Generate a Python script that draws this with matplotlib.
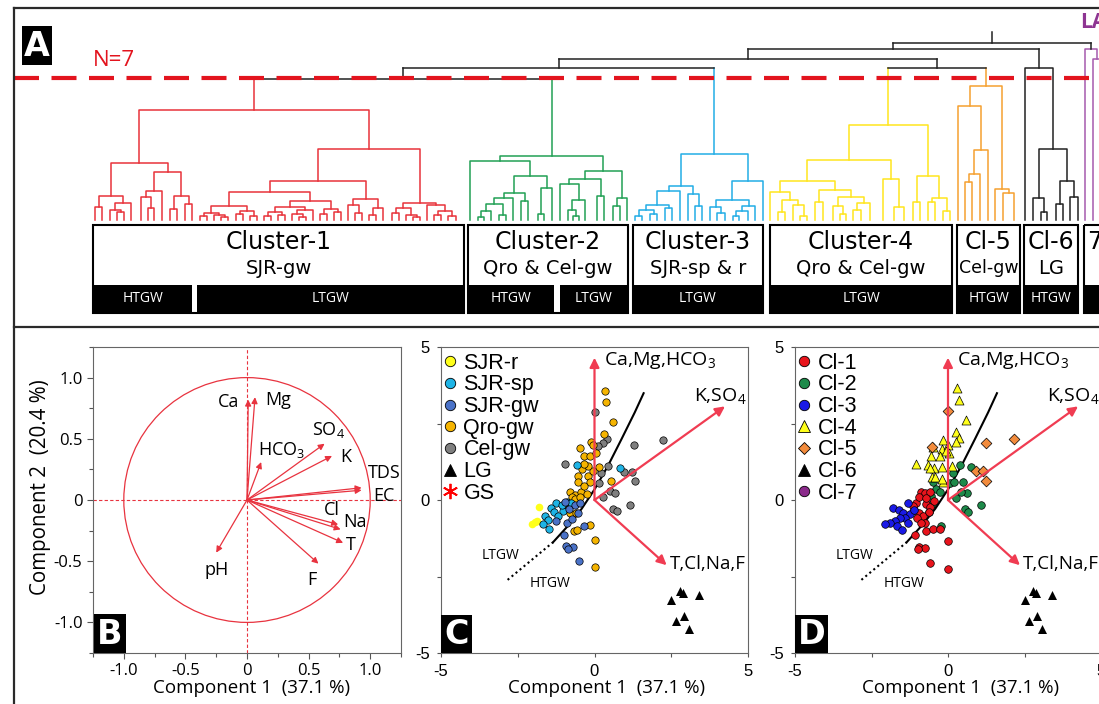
import matplotlib
matplotlib.use("Agg")
import matplotlib.pyplot as plt
from matplotlib.patches import Rectangle, Circle
from matplotlib.lines import Line2D
import numpy as np

W, H = 1099, 704
plt.rcParams["font.family"] = ["Open Sans", "DejaVu Sans"]
plt.rcParams["axes.unicode_minus"] = False
plt.rcParams["mathtext.default"] = "regular"

# ---------------- panel A: dendrogram ----------------
# node = (height, left, right); a leaf is its position along the leaf row
red_tree = (110,
    (57,
        (24, (13, 95, 102), (17, (10, 110, (8, 117, 124)), 131)),
        (48, (29, (23, 141, (12, 148, 154)), 162), (24, (11, 170, 177), (16, 185, 192)))),
    (71,
        (39,
            (28,
                (14, (7, (4, 200, 207), (5, 214, (3, 221, 228))), (9, (6, 236, 243), (4, 250, 257))),
                (19, (13, (8, (4, 264, 271), (5, 278, 285)), (10, (6, 292, (3, 299, 306)), 313)),
                     (11, (6, 320, 327), (8, 334, 341)))),
            (21, (15, 348, (7, 355, 362)), (12, (5, 369, 376), 383))),
        (17, (12, (7, 392, 399), (5, 406, (3, 413, 420))), (15, 427, (9, (5, 434, 441), (4, 448, 456))))))
green_tree = (64,
    (59, 470, (44, (27, (22, (16, (9, (3, 478, 484), 491), (5, 499, 506)), 513), (19, 521, 528)),
                   (32, (6, 538, 544), 552))),
    (49, (41, (36, 560, (20, (10, 568, (4, 573, 579)), 585)), (24, 597, 604)),
         (22, (14, 613, 620), 627)))
blue_tree = (66,
    (34, (29, (15, (10, (4, 635, 642), (6, 650, 657)), (12, 665, 672)), 680),
         (26, 688, (14, 695, 702))),
    (39, (20, (13, 710, (7, 717, 725)), (14, (9, (4, 733, 739), 748), 755)), 763))
yellow_tree = (95,
    (60, (39, (28, 770, (20, (8, 778, 785), (15, 793, (4, 800, 807)))),
              (30, (18, 815, 823), (23, (14, 833, (6, 840, 846)), (17, (10, 853, 861), 870)))),
         (41, 883, (13, 894, 904))),
    (44, (18, 913, 920), (22, (18, 928, 935), (9, 943, 950))))
orange_tree = (134,
    (114, 958, (70, (46, (38, 965, 972), 980), 988)),
    (31, 995, (27, 1003, 1014)))
black_tree = (152, 1025,
    (71, (22, 1033, (8, 1041, 1047)), (39, (16, 1056, 1063), (23, 1070, 1078))))
purple_tree = (171, 1085, (161, 1093, 1101))

trees = {"red": red_tree, "green": green_tree, "blue": blue_tree, "yellow": yellow_tree,
         "orange": orange_tree, "black": black_tree, "purple": purple_tree}
tree_colors = {"red": "#e8333b", "green": "#22a055", "blue": "#23ade6", "yellow": "#ffe51e",
               "orange": "#f5a030", "black": "#222222", "purple": "#a55aad"}

# joins of the seven clusters above the cut
upper_tree = (177, (171, (161, (152, (141, "red", "green"), "blue"), (152, "yellow", "orange")), "black"), "purple")
root_top = 188
cut_height = 142

cluster_titles = ["Cluster-1", "Cluster-2", "Cluster-3", "Cluster-4", "Cl-5", "Cl-6", "7"]
cluster_groups = ["SJR-gw", "Qro & Cel-gw", "SJR-sp & r", "Qro & Cel-gw", "Cel-gw", "LG", ""]
cluster_bands = [[("HTGW", 93, 192), ("LTGW", 197, 464)],
                 [("HTGW", 468, 554), ("LTGW", 560, 628)],
                 [("LTGW", 633, 763)],
                 [("LTGW", 770, 952)],
                 [("HTGW", 957, 1020)],
                 [("HTGW", 1024, 1078)],
                 [("", 1084, 1115)]]

# ---------------- panel B: loadings ----------------
load_names = ["Ca", "Mg", "HCO$_3$", "SO$_4$", "K", "TDS", "EC", "Cl", "Na", "T", "F", "pH"]
load_x = [0.01, 0.065, 0.115, 0.63, 0.69, 0.93, 0.93, 0.74, 0.76, 0.78, 0.58, -0.25]
load_y = [0.82, 0.84, 0.31, 0.46, 0.36, 0.10, 0.08, -0.20, -0.24, -0.35, -0.52, -0.43]

# ---------------- panels C and D: scores ----------------
sjr_r_x = [-1.81, -1.86, -2.02, -1.94]
sjr_r_y = [-0.24, -0.70, -0.78, -0.73]
sjr_sp_x = [-0.56, 0.83, -1.26, -1.43, -1.60, -1.53, -1.67, -1.48, -1.31, -1.02, -0.91, -0.77, -1.07, -1.18]
sjr_sp_y = [1.14, 1.03, -0.10, -0.26, -0.51, -0.64, -0.78, -0.95, -0.38, -0.37, -0.05, -0.10, -0.15, -0.53]
sjr_gw_x = [-0.97, -0.83, -0.64, -0.48, -1.24, -1.00, -0.94, -0.69, -0.86, -0.51, -0.34, -0.91, -0.73, -0.55]
sjr_gw_y = [-0.08, -0.29, -0.15, -0.10, -0.70, -1.14, -1.49, -1.55, -1.60, -2.00, -0.84, -0.76, -0.62, -0.42]
qro_x = [0.34, 0.39, 0.61, 0.31, -0.13, -0.04, -0.46, -0.34, -0.15, 0.04, 0.16, -0.42, -0.53, -0.21,
         -0.04, -0.53, -0.15, 0.53, -0.80, -0.64, -0.45, -0.26, -0.73, -0.34, -0.86, -0.80, -0.59,
         -0.67, -0.56, -0.15, 0.03, 0.03, -0.21, -0.34, -0.64, -0.48]
qro_y = [3.57, 3.21, 2.56, 2.16, 1.91, 1.80, 1.70, 1.43, 1.43, 1.54, 1.09, 1.01, 0.80, 0.80,
         0.96, 0.58, 0.58, 0.61, 0.27, 0.17, 0.27, 0.20, 0.11, 0.47, -0.29, -0.42, -0.44,
         -1.00, -0.97, -0.82, -1.30, -2.20, 1.12, 1.18, 0.03, 0.09]
cel_x = [0.01, 0.41, 0.29, 0.12, -0.97, 0.45, 0.21, 0.14, 0.52, 0.67, 0.28, 0.61, 0.73, 1.15, 0.97, 1.21, 1.31, 1.29, 2.24]
cel_y = [2.86, 1.99, 1.86, 1.78, 1.17, 1.12, 0.88, 0.56, 0.28, 0.23, 0.09, -0.29, -0.36, -0.16, 0.90, 0.93, 0.62, 1.80, 1.96]
lg_x = [2.79, 2.89, 3.39, 2.50, 2.90, 2.65, 3.08]
lg_y = [-2.97, -3.03, -3.12, -3.28, -3.79, -3.95, -4.22]

cl1_x = [-0.89, -0.74, -0.58, -1.03, -1.11, -0.95, -0.82, -1.01, -0.71, -0.58, -0.74, -0.63, -1.09, -0.95,
         -0.76, -0.98, -0.71, -0.49, -0.27, 0.00, -0.60, 0.00, -0.87, -1.14, -0.95, -0.47, -0.73]
cl1_y = [0.27, 0.22, 0.25, -0.11, -0.33, -0.41, -0.51, -0.60, -0.13, -0.24, -0.74, -0.38, -1.16, -1.52,
         -1.58, -1.59, -1.00, -0.95, -0.96, -1.33, -2.07, -2.24, -0.74, -0.18, 0.11, -0.02, 0.05]
cl2_x = [0.38, 0.76, 0.16, 0.49, 0.08, -0.49, -0.38, -0.27, -0.54, -0.53, -0.62, -0.22, 0.25, 0.62, 0.41, 0.54, 0.65, 1.08, 0.18]
cl2_y = [1.14, 1.07, 0.89, 0.60, 0.54, 0.60, 0.35, 0.26, 0.14, -0.13, -0.38, -0.84, 0.05, 0.22, 0.27, -0.30, -0.38, -0.16, 0.60]
cl3_x = [-1.79, -1.60, -1.30, -1.47, -1.25, -1.41, -1.58, -1.74, -1.90, -2.07, -1.68, -1.49, -1.30, -1.12]
cl3_y = [-0.25, -0.33, -0.11, -0.43, -0.47, -0.60, -0.58, -0.67, -0.74, -0.79, -0.85, -0.98, -0.74, -0.33]
cl4_x = [0.29, 0.35, 0.58, 0.27, 0.36, 0.25, -0.16, -0.49, -0.18, 0.00, 0.02, -0.27, -0.54, -1.03, -0.65,
         -0.47, -0.18, 0.14, -0.51, -0.41, -0.16, -0.18, -0.60, -0.05]
cl4_y = [3.67, 3.28, 2.63, 2.23, 2.03, 1.90, 1.96, 1.72, 1.68, 1.79, 1.52, 1.43, 1.43, 1.17, 1.14,
         1.03, 1.09, 1.11, 0.76, 0.76, 0.60, 0.68, 1.03, 1.61]
cl5_x = [0.00, -0.51, 1.25, 2.17, 0.90, 1.16, 1.25]
cl5_y = [2.91, 1.74, 1.85, 1.99, 0.95, 0.95, 0.62]

# LTGW / HTGW divide
curve_x = [-1.35, -0.86, -0.42, 0.01, 0.44, 0.88, 1.31, 1.60]
curve_y = [-1.38, -0.84, -0.29, 0.36, 1.12, 1.99, 2.86, 3.49]
dotted_x = [-2.83, -1.35]
dotted_y = [-2.61, -1.38]

vec_names = ["Ca,Mg,HCO$_3$", "K,SO$_4$", "T,Cl,Na,F"]
vec_x = [0.0, 4.25, 2.35]
vec_y = [4.65, 3.06, -2.13]

pca_red = "#e8333f"
vec_red = "#f03c52"

fig = plt.figure(figsize=(W / 100, H / 100), dpi=100)


def px_axes(x0, y0, x1, y1, **kw):
    return fig.add_axes([x0 / W, 1 - y1 / H, (x1 - x0) / W, (y1 - y0) / H], **kw)


def draw_node(ax, node, color):
    if not isinstance(node, tuple):
        return node, 0
    h, a, b = node
    xa, ha = draw_node(ax, a, color)
    xb, hb = draw_node(ax, b, color)
    ax.plot([xa, xa, xb, xb], [ha, h, h, hb], color=color, lw=1.1)
    return (xa + xb) / 2, h


def draw_upper(ax, node):
    if isinstance(node, str):
        x, h = draw_node(ax, trees[node], tree_colors[node])
        leg = tree_colors[node] if h < cut_height else "#222222"
        return x, h, leg
    h, a, b = node
    xa, ha, ca = draw_upper(ax, a)
    xb, hb, cb = draw_upper(ax, b)
    ax.plot([xa, xa], [ha, h], color=ca, lw=1.1)
    ax.plot([xb, xb], [hb, h], color=cb, lw=1.1)
    ax.plot([xa, xb], [h, h], color="#222222", lw=1.1)
    return (xa + xb) / 2, h, "#222222"


# dendrogram
axA = px_axes(14, 8, 1099, 222)
axA.set_xlim(14, 1099)
axA.set_ylim(-2, 212)
axA.axis("off")
rx, rh, rc = draw_upper(axA, upper_tree)
axA.plot([rx, rx], [rh, root_top], color=rc, lw=1.1)
axA.axhline(cut_height, color="#e3141e", lw=3, dashes=(6, 3), zorder=5)
axA.text(93, 160, "N=7", color="#e3141e", fontsize=16, va="center", ha="left")
axA.text(1080, 198, "LA", color="#8e3592", fontsize=15, fontweight="bold", va="center", ha="left")

# panel B
axB = px_axes(93, 347, 401, 653)
axB.set_xlim(-1.25, 1.25)
axB.set_ylim(-1.25, 1.25)
axB.add_patch(Circle((0, 0), 1.0, fill=False, ec=pca_red, lw=0.9))
axB.axhline(0, color=pca_red, lw=0.8, dashes=(3, 2))
axB.axvline(0, color=pca_red, lw=0.8, dashes=(3, 2))
for lx, ly in zip(load_x, load_y):
    axB.annotate("", xy=(lx, ly), xytext=(0, 0),
                 arrowprops=dict(arrowstyle="-|>", color=pca_red, lw=0.9, mutation_scale=9,
                                 shrinkA=0, shrinkB=0))
label_pos = {"Ca": (-0.15, 0.80), "Mg": (0.25, 0.82), "HCO$_3$": (0.28, 0.41), "SO$_4$": (0.66, 0.57),
             "K": (0.80, 0.35), "TDS": (1.11, 0.22), "EC": (1.11, 0.03), "Cl": (0.69, -0.08),
             "Na": (0.88, -0.18), "T": (0.84, -0.37), "F": (0.53, -0.65), "pH": (-0.25, -0.57)}
for name in load_names:
    tx, ty = label_pos[name]
    axB.text(tx, ty, name, ha="center", va="center", fontsize=13)
axB.set_xticks([-1, -0.5, 0, 0.5, 1])
axB.set_xticklabels(["-1.0", "-0.5", "0", "0.5", "1.0"])
axB.set_yticks([-1, -0.5, 0, 0.5, 1])
axB.set_yticklabels(["-1.0", "-0.5", "0", "0.5", "1.0"])
axB.set_xticks(np.arange(-1.25, 1.3, 0.25), minor=True)
axB.set_yticks(np.arange(-1.25, 1.3, 0.25), minor=True)
axB.tick_params(which="both", direction="out", color="#555555", width=0.8, labelsize=12)
axB.tick_params(which="major", length=4)
axB.tick_params(which="minor", length=3)


def score_axes(x0, x1):
    ax = px_axes(x0, 347, x1, 653)
    ax.set_xlim(-5, 5)
    ax.set_ylim(-5, 5)
    ax.set_xticks([-5, 0, 5])
    ax.set_yticks([-5, 0, 5])
    ax.set_xticks([-2.5, 2.5], minor=True)
    ax.set_yticks([-2.5, 2.5], minor=True)
    ax.tick_params(which="both", direction="out", length=3, color="#555555", width=0.8,
                   labelsize=12, labelfontfamily="Liberation Sans", pad=5)
    ax.plot(curve_x, curve_y, color="k", lw=1.5, zorder=2)
    ax.plot(dotted_x, dotted_y, color="k", lw=1.5, dashes=(1, 1.5), zorder=2)
    ax.text(-3.05, -1.8, "LTGW", fontsize=10, ha="center", va="center")
    ax.text(-1.45, -2.72, "HTGW", fontsize=10, ha="center", va="center")
    for vx, vy in zip(vec_x, vec_y):
        ax.annotate("", xy=(vx, vy), xytext=(0, 0), zorder=6,
                    arrowprops=dict(arrowstyle="-|>", color=vec_red, lw=1.6, mutation_scale=14,
                                    shrinkA=0, shrinkB=0))
    ax.text(0.3, 4.55, vec_names[0], fontsize=14, ha="left", va="center")
    ax.text(4.95, 3.4, vec_names[1], fontsize=14, ha="right", va="center")
    ax.text(2.45, -2.1, vec_names[2], fontsize=13.5, ha="left", va="center")
    ax.scatter(lg_x, lg_y, marker="^", s=42, c="k", lw=0, zorder=4)
    return ax


mk = dict(edgecolors="k", linewidths=0.5, zorder=4)
axC = score_axes(441, 748)
axC.scatter(sjr_r_x, sjr_r_y, s=30, c="#ffff1a", lw=0, zorder=4)
axC.scatter(cel_x, cel_y, s=28, c="#7f7f7f", **mk)
axC.scatter(qro_x, qro_y, s=28, c="#f5b400", **mk)
axC.scatter(sjr_sp_x, sjr_sp_y, s=28, c="#1eb4e6", **mk)
axC.scatter(sjr_gw_x, sjr_gw_y, s=28, c="#4a72c8", **mk)

axD = score_axes(795, 1101)
axD.scatter(cl2_x, cl2_y, s=30, c="#1d8a4a", **mk)
axD.scatter(cl1_x, cl1_y, s=30, c="#e8141c", **mk)
axD.scatter(cl3_x, cl3_y, s=30, c="#1a1ae6", **mk)
axD.scatter(cl4_x, cl4_y, s=42, marker="^", c="#ffff1a", **mk)
axD.scatter(cl5_x, cl5_y, s=30, marker="D", c="#f28b3c", **mk)


def handle(marker, fc, ec="k", ms=7.5, mew=0.6):
    return Line2D([], [], ls="none", marker=marker, ms=ms, mfc=fc, mec=ec, mew=mew)


leg_kw = dict(loc="upper left", bbox_to_anchor=(-0.004, 0.988), frameon=False,
              prop={"family": "Liberation Sans", "size": 15.5}, handlelength=0.75,
              handletextpad=0.25, labelspacing=0.03, borderaxespad=0, borderpad=0.1)
axC.legend([handle("o", "#ffff1a"), handle("o", "#1eb4e6"), handle("o", "#4a72c8"),
            handle("o", "#f5b400"), handle("o", "#7f7f7f"), handle("^", "k", ms=8),
            handle((6, 2, 0), "r", ec="r", ms=11, mew=1.3)],
           ["SJR-r", "SJR-sp", "SJR-gw", "Qro-gw", "Cel-gw", "LG", "GS"], **leg_kw)
axD.legend([handle("o", "#e8141c"), handle("o", "#1d8a4a"), handle("o", "#1a1ae6"),
            handle("^", "#ffff1a", ms=8.5), handle("D", "#f28b3c", ms=6.5), handle("^", "k", ms=8),
            handle("o", "#8b2a8b")],
           ["Cl-1", "Cl-2", "Cl-3", "Cl-4", "Cl-5", "Cl-6", "Cl-7"], **leg_kw)

for ax in (axB, axC, axD):
    for s in ax.spines.values():
        s.set_color("#666666")
        s.set_linewidth(0.8)

fig.text(252 / W, 1 - 688 / H, "Component 1  (37.1 %)", fontsize=13.5, ha="center", va="center")
fig.text(607 / W, 1 - 688 / H, "Component 1  (37.1 %)", fontsize=13.5, ha="center", va="center")
fig.text(961 / W, 1 - 688 / H, "Component 1  (37.1 %)", fontsize=13.5, ha="center", va="center")
fig.text(41 / W, 1 - 487 / H, "Component 2  (20.4 %)", fontsize=14.8, ha="center", va="center",
         rotation=90)

# overlay: frame, cluster boxes, panel letters
ov = fig.add_axes([0, 0, 1, 1], zorder=10)
ov.set_xlim(0, W)
ov.set_ylim(H, 0)
ov.axis("off")
for xs, ys in (([14, W + 5], [8, 8]), ([14, 14], [8, H + 5]), ([14, W + 5], [327, 327])):
    ov.plot(xs, ys, color="#2a2a2a", lw=1.6, solid_capstyle="projecting")

for title, group, bands in zip(cluster_titles, cluster_groups, cluster_bands):
    x0, x1 = bands[0][1], bands[-1][2]
    ov.add_patch(Rectangle((x0, 225), x1 - x0, 88, fc="white", ec="none"))
    for lab, b0, b1 in bands:
        ov.add_patch(Rectangle((b0, 285), b1 - b0, 28, fc="black", ec="none"))
        if lab:
            ov.text((b0 + b1) / 2, 299, lab, color="white", fontsize=10, ha="center", va="center")
    ov.add_patch(Rectangle((x0, 225), x1 - x0, 88, fill=False, ec="black", lw=1.5))
    if title == "7":
        ov.text(x0 + 3, 242, title, fontsize=17, family="DejaVu Sans", ha="left", va="center")
    else:
        ov.text((x0 + x1) / 2, 242, title, fontsize=17, family="DejaVu Sans", ha="center", va="center")
        gsize = 12.5 if title == "Cl-5" else 14
        ov.text((x0 + x1) / 2, 268, group, fontsize=gsize, family="DejaVu Sans", ha="center", va="center")

for letter, (x0, y0, x1, y1) in zip("ABCD", [(22, 26, 52, 65), (94, 614, 126, 653),
                                             (441, 615, 472, 653), (795, 615, 828, 653)]):
    ov.add_patch(Rectangle((x0, y0), x1 - x0, y1 - y0, fc="black", ec="none"))
    ov.text((x0 + x1) / 2, (y0 + y1) / 2 + 1, letter, color="white", fontsize=24,
            fontweight="bold", family="DejaVu Sans", ha="center", va="center")

fig.savefig("out.png", dpi=100)
